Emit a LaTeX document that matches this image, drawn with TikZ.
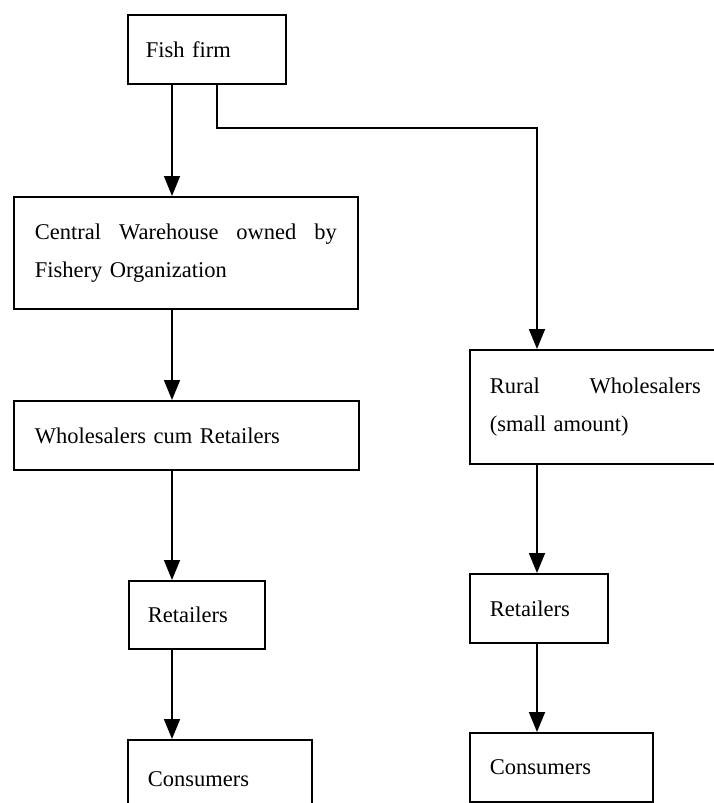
\documentclass[tikz,border=0pt]{standalone}
\usepackage{fontspec}
\setmainfont{Liberation Serif}
\usetikzlibrary{arrows.meta}

\tikzset{
  stage/.style={draw, line width=1.8pt, rectangle, anchor=north west,
    inner ysep=0pt, align=left,
    font=\fontsize{22.5}{38}\selectfont},
  flow/.style={line width=1.8pt, -{Triangle[width=16pt,length=20pt]}},
}

\begin{document}
\begin{tikzpicture}[x=1pt, y=-1pt]
  \clip (0,0) rectangle (714,803);
  \fill[white] (0,0) rectangle (714,803);

  % left chain
  \node[stage, minimum width=158pt, minimum height=69pt, text width=122pt]
    (fish) at (127,14) {Fish firm};
  \node[stage, minimum width=344pt, minimum height=112pt, text width=302pt]
    (central) at (13,196) {Central\hfill Warehouse\hfill owned\hfill by\\Fishery Organization};
  \node[stage, minimum width=345pt, minimum height=69pt, text width=303pt]
    (whole) at (13,400) {Wholesalers cum Retailers};
  \node[stage, minimum width=136pt, minimum height=68pt, text width=98pt]
    (retL) at (128,580) {Retailers};
  \node[stage, minimum width=184pt, minimum height=78pt, text width=144pt]
    (conL) at (127,739) {Consumers};

  % right chain
  \node[stage, minimum width=251pt, minimum height=114pt, text width=211pt]
    (rural) at (469,349) {Rural\hfill Wholesalers\\(small amount)};
  \node[stage, minimum width=138pt, minimum height=69pt, text width=98pt]
    (retR) at (469,573) {Retailers};
  \node[stage, minimum width=183pt, minimum height=69pt, text width=143pt]
    (conR) at (469,732) {Consumers};

  % connector columns
  \coordinate (colL) at (172,0);
  \coordinate (colR) at (537,0);
  \coordinate (bend) at (217,128);

  \draw[flow] (colL |- fish.south) -- (colL |- central.north);
  \draw[flow] (bend |- fish.south) -- (bend) -| (colR |- rural.north);
  \draw[flow] (colL |- central.south) -- (colL |- whole.north);
  \draw[flow] (colL |- whole.south) -- (colL |- retL.north);
  \draw[flow] (colL |- retL.south) -- (colL |- conL.north);
  \draw[flow] (colR |- rural.south) -- (colR |- retR.north);
  \draw[flow] (colR |- retR.south) -- (colR |- conR.north);
\end{tikzpicture}
\end{document}
